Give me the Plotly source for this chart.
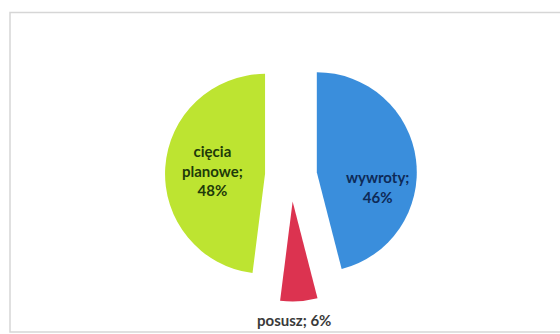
import plotly.graph_objects as go

# Share of damaged timber by cause
labels = ["wywroty", "posusz", "cięcia planowe"]
values = [46, 6, 48]
label_lines = ["wywroty;", "posusz;", "cięcia<br>planowe;"]

slice_colors = ["#3a8edc", "#dc3350", "#bde431"]
text_colors = ["#0e2a57", "#3a3a3a", "#1e3a0a"]

W, H = 560, 334

fig = go.Figure(
    go.Pie(
        labels=labels,
        values=values,
        textinfo="none",
        marker=dict(colors=slice_colors, line=dict(width=0)),
        pull=[0.26, 0.26, 0.26],
        sort=False,
        direction="clockwise",
        rotation=0,
        showlegend=False,
        hoverinfo="label+percent",
        domain=dict(x=[165 / W, 417 / W], y=[1 - 301.5 / H, 1 - 49.5 / H]),
    )
)

# Data labels: name; share, placed beside each slice
total = sum(values)
label_pos = [(377, 187, "<br>"), (294, 320, " "), (212, 170, "<br>")]
for name, v, color, (px, py, sep) in zip(label_lines, values, text_colors, label_pos):
    fig.add_annotation(
        x=px / W, y=1 - py / H, xref="paper", yref="paper",
        text=f"<b>{name}{sep}{round(100 * v / total)}%</b>",
        showarrow=False, align="center",
        xanchor="center", yanchor="middle",
        font=dict(family="Lato", size=15, color=color),
    )

# Light frame around the chart area: top, left and bottom sides, open to the right
fx0, fx1 = 10 / W, 1.0
fy0, fy1 = 1 - 332 / H, 1 - 12.5 / H
fig.add_shape(
    type="path",
    xref="paper", yref="paper",
    path=f"M {fx1},{fy1} L {fx0},{fy1} L {fx0},{fy0} L {fx1},{fy0}",
    line=dict(color="#d6d6d6", width=1.5),
    fillcolor="rgba(0,0,0,0)",
)

fig.update_layout(
    autosize=False,
    width=W,
    height=H,
    margin=dict(l=0, r=0, t=0, b=0),
    paper_bgcolor="white",
    plot_bgcolor="white",
)

fig.write_html("out.html")
